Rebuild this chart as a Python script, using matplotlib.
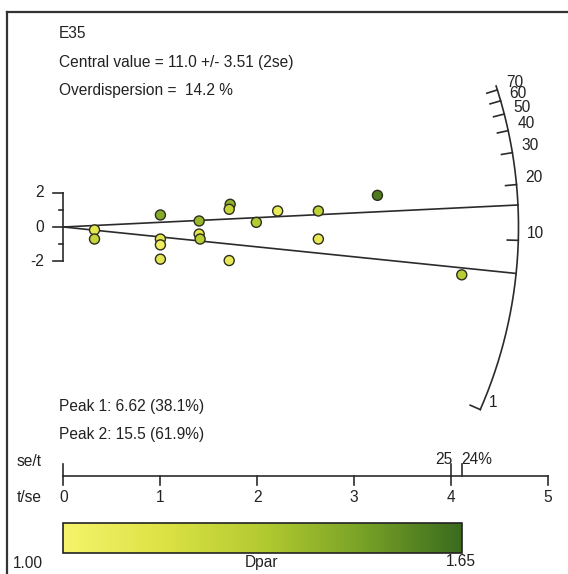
"""
Radial plot of fission-track single-grain ages (sample E35), coloured by Dpar.
"""
import numpy as np
import matplotlib
matplotlib.use('Agg')
import matplotlib.pyplot as plt
from matplotlib.colors import LinearSegmentedColormap, Normalize
from matplotlib.cm import ScalarMappable
from matplotlib.lines import Line2D

plt.rcParams['font.family'] = ['Liberation Sans', 'DejaVu Sans']
FS = 11.2

# ── data ──
sample_name = "E35"
central_text = "Central value = 11.0 +/- 3.51 (2se)"
overdisp_text = "Overdispersion =  14.2 %"
peak_texts = ["Peak 1: 6.62 (38.1%)", "Peak 2: 15.5 (61.9%)"]
peaks = [6.62, 15.5]

# grains: precision (t/se), standardised estimate, Dpar
t_se = [0.32, 0.32, 1.00, 1.00, 1.00, 1.00, 1.40, 1.40, 1.41,
        1.72, 1.71, 1.71, 1.99, 2.21, 2.63, 2.63, 3.24, 4.11]
z_std = [-0.17, -0.70, 0.70, -0.70, -1.04, -1.87, 0.35, -0.41, -0.70,
         1.32, 1.03, -1.95, 0.27, 0.93, 0.93, -0.70, 1.84, -2.78]
dpar = [1.12, 1.25, 1.45, 1.12, 1.05, 1.12, 1.40, 1.12, 1.30,
        1.42, 1.25, 1.10, 1.32, 1.08, 1.28, 1.10, 1.60, 1.30]

arc_ticks = [1, 10, 20, 30, 40, 50, 60, 70]
y_major = [-2, 0, 2]
y_minor = [-1, 1]
x_ticks = [0, 1, 2, 3, 4, 5]
se_t_pct = [25, 24.3]
se_t_labels = ["25", "24%"]
dpar_min, dpar_max = 1.00, 1.65
t_ref = 11.8           # age of the horizontal direction

# ── layout (pixels) ──
W, H = 568, 574
X0, SX = 63.5, 96.9     # px of t/se = 0, px per unit
Y0, SY = 227, 17.2      # px (from top) of z = 0, px per unit
R_PX = 455              # arc radius in px
Y_SCALE = 476           # px of the t/se axis line

cmap = LinearSegmentedColormap.from_list(
    'dpar', ['#f5f36c', '#dce244', '#b2ca30', '#78a226', '#3a6a1e'])
norm = Normalize(dpar_min, dpar_max)

fig = plt.figure(figsize=(W / 100, H / 100), dpi=100)
ax = fig.add_axes([0, 0, 1, 1])
ax.set_xlim(-X0 / SX, (W - X0) / SX)
ax.set_ylim(-(H - Y0) / SY, Y0 / SY)
ax.axis('off')

# frame (left + top)
fig.add_artist(Line2D([7 / W, 7 / W], [0, 1 - 12 / H], color='#333333', lw=1.6))
fig.add_artist(Line2D([7 / W, 1], [1 - 12 / H, 1 - 12 / H], color='#333333', lw=1.6))


def arc_pt(t, r):
    m = np.log(np.asarray(t) / t_ref)
    n = np.hypot(SX, m * SY)
    return r / n, r * m / n


ink = '#2b2b2b'

# arc
ts = np.geomspace(1, 74, 300)
ax.plot(*arc_pt(ts, R_PX), color=ink, lw=1.2)
for t in arc_ticks:
    xo, yo = arc_pt(t, R_PX)
    xi, yi = arc_pt(t, R_PX - 11)
    ax.plot([xi, xo], [yi, yo], color=ink, lw=1.2)
    ax.annotate(str(t), (xo, yo), xytext=(6.5, 5), textcoords='offset points',
                ha='left', va='center', fontsize=FS, color='#222222')

# peak lines
for p in peaks:
    xe, ye = arc_pt(p, R_PX)
    ax.plot([0, xe], [0, ye], color=ink, lw=1.2)

# y axis bracket
xa = -0.6 / SX
ax.plot([xa, xa], [y_major[0], y_major[-1]], color=ink, lw=1.2)
for v in y_major:
    ax.plot([xa - 10 / SX, xa], [v, v], color=ink, lw=1.2)
    ax.text(-(X0 - 44) / SX, v, str(v), ha='right', va='center', fontsize=FS, color='#222222')
for v in y_minor:
    ax.plot([xa - 4 / SX, xa], [v, v], color=ink, lw=1.2)

# grains
ax.scatter(t_se, z_std, c=dpar, cmap=cmap, norm=norm, s=52,
           edgecolors='#2e2e1e', linewidths=1.0, zorder=4)

# texts
def txt(xp, yp, s, **kw):
    fig.text(xp / W, 1 - yp / H, s, fontsize=FS, color='#222222', va='center', **kw)

txt(59, 34, sample_name)
txt(59, 63, central_text)
txt(59, 91, overdisp_text)
txt(59, 407, peak_texts[0])
txt(59, 434, peak_texts[1])
txt(17, 461, "se/t")
txt(17, 497, "t/se")

# t/se scale
yb = (Y0 - Y_SCALE) / SY
ax.plot([x_ticks[0], x_ticks[-1]], [yb, yb], color=ink, lw=1.2)
for v in x_ticks:
    ax.plot([v, v], [yb, yb - 9 / SY], color=ink, lw=1.2)
    ax.text(v, yb - 21 / SY, str(v), ha='center', va='center', fontsize=FS, color='#222222')
up = [0] + [100 / p for p in se_t_pct]
for v in up:
    ax.plot([v, v], [yb, yb + 12 / SY], color=ink, lw=1.2)
ax.text(100 / se_t_pct[0] + 1 / SX, yb + 17 / SY, se_t_labels[0], ha='right', va='center',
        fontsize=FS, color='#222222')
ax.text(100 / se_t_pct[1] - 1 / SX, yb + 17 / SY, se_t_labels[1], ha='left', va='center',
        fontsize=FS, color='#222222')

# colour bar
cax = fig.add_axes([63 / W, 1 - 553 / H, (462 - 63) / W, 30 / H])
cb = fig.colorbar(ScalarMappable(norm=norm, cmap=cmap), cax=cax, orientation='horizontal')
cb.set_ticks([])
cb.outline.set_linewidth(1.2)
cb.outline.set_edgecolor('#222222')
txt(28, 564, f"{dpar_min:.2f}", ha='center')
txt(262, 562, "Dpar", ha='center')
txt(461, 562, f"{dpar_max:.2f}", ha='center')

fig.savefig('out.png', dpi=100)
